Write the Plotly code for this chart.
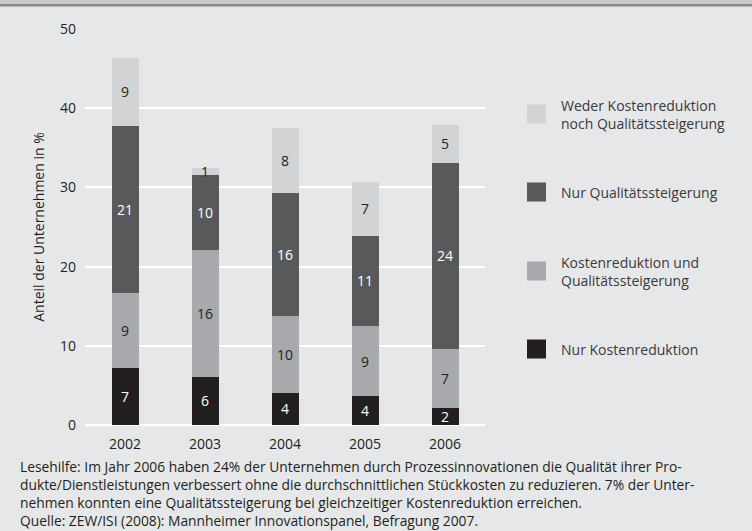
import plotly.graph_objects as go

years = ["2002", "2003", "2004", "2005", "2006"]
series_names = [
    "Nur Kostenreduktion",
    "Kostenreduktion und<br>Qualitätssteigerung",
    "Nur Qualitätssteigerung",
    "Weder Kostenreduktion<br>noch Qualitätssteigerung",
]
nur_kosten = [7.2, 6.1, 4.1, 3.6, 2.2]
kosten_qual = [9.5, 16.0, 9.7, 8.9, 7.4]
nur_qual = [21.05, 9.5, 15.5, 11.4, 23.5]
weder = [8.6, 0.85, 8.2, 6.8, 4.8]

lbl_nur_kosten = ["7", "6", "4", "4", "2"]
lbl_kosten_qual = ["9", "16", "10", "9", "7"]
lbl_nur_qual = ["21", "10", "16", "11", "24"]
lbl_weder = ["9", "1", "8", "7", "5"]

values = [nur_kosten, kosten_qual, nur_qual, weder]
labels = [lbl_nur_kosten, lbl_kosten_qual, lbl_nur_qual, lbl_weder]
colors = ["#231f20", "#a7a9ac", "#58595b", "#d1d3d4"]
text_colors = ["#ffffff", "#231f20", "#ffffff", "#231f20"]

y_ticks = [0, 10, 20, 30, 40, 50]

BG = "#e6e7e8"
FONT = "Open Sans"

fig = go.Figure()
for vals, lbls, col, tcol, name in zip(values, labels, colors, text_colors, series_names):
    fig.add_trace(go.Bar(
        x=years, y=vals, name=name, marker=dict(color=col, line=dict(width=0)),
        text=lbls, textposition="inside", insidetextanchor="middle",
        constraintext="none", textangle=0,
        textfont=dict(family=FONT, size=14, color=tcol),
        hoverinfo="x+y+name", showlegend=False,
    ))

# plot area: x 85..485 px, y 29..425 px
L, R, T, B = 85, 485, 29, 425
W, H = 752, 531
pw, ph = R - L, B - T

def px(xp):
    return (xp - L) / pw

def py(yp):
    return (B - yp) / ph

shapes = [
    dict(type="rect", xref="paper", yref="paper", x0=px(0), x1=px(W), y0=py(4), y1=py(0),
         fillcolor="#c9cacc", line=dict(width=0), layer="below"),
    dict(type="rect", xref="paper", yref="paper", x0=px(0), x1=px(W), y0=py(6.5), y1=py(4),
         fillcolor="#8a8b8d", line=dict(width=0), layer="below"),
]
annotations = []

legend_order = [3, 2, 1, 0]
legend_centers = [114, 192, 271, 349]
for idx, cy in zip(legend_order, legend_centers):
    shapes.append(dict(type="rect", xref="paper", yref="paper",
                       x0=px(527), x1=px(546), y0=py(cy + 9.5), y1=py(cy - 9.5),
                       fillcolor=colors[idx], line=dict(width=0)))
    annotations.append(dict(xref="paper", yref="paper", x=px(559), y=py(cy),
                            xanchor="left", yanchor="middle", align="left",
                            text=series_names[idx], showarrow=False,
                            font=dict(family=FONT, size=14, color="#3a3a3c")))

footer = [
    "Lesehilfe: Im Jahr 2006 haben 24% der Unternehmen durch Prozessinnovationen die Qualität ihrer Pro-",
    "dukte/Dienstleistungen verbessert ohne die durchschnittlichen Stückkosten zu reduzieren. 7% der Unter-",
    "nehmen konnten eine Qualitätssteigerung bei gleichzeitiger Kostenreduktion erreichen.",
    "Quelle: ZEW/ISI (2008): Mannheimer Innovationspanel, Befragung 2007.",
]
annotations.append(dict(xref="paper", yref="paper", x=px(19), y=py(493),
                        xanchor="left", yanchor="middle", align="left",
                        text="<br>".join(footer), showarrow=False, borderpad=0,
                        font=dict(family=FONT, size=13.8, color="#231f20")))

fig.update_layout(
    width=W, height=H,
    margin=dict(l=L, r=W - R, t=T, b=H - B),
    paper_bgcolor=BG, plot_bgcolor=BG,
    barmode="stack", bargap=1 - 27 / 80,
    font=dict(family=FONT, size=14, color="#231f20"),
    shapes=shapes, annotations=annotations,
    xaxis=dict(showgrid=False, showline=False, ticks="", zeroline=False,
               tickfont=dict(family=FONT, size=14, color="#231f20"),
               ticklabelstandoff=9),
    yaxis=dict(range=[0, 50], tickvals=y_ticks, showgrid=True, gridcolor="#ffffff",
               gridwidth=1.5, zeroline=True, zerolinecolor="#ffffff", zerolinewidth=1.5,
               showline=False, ticks="", ticklabelstandoff=8,
               tickfont=dict(family=FONT, size=14, color="#231f20"),
               title=dict(text="Anteil der Unternehmen in %", standoff=12,
                          font=dict(family=FONT, size=14, color="#231f20"))),
)

fig.write_html("out.html",
               config={"displayModeBar": False},
               post_script="document.body.style.margin='0';document.body.style.overflow='hidden';")
